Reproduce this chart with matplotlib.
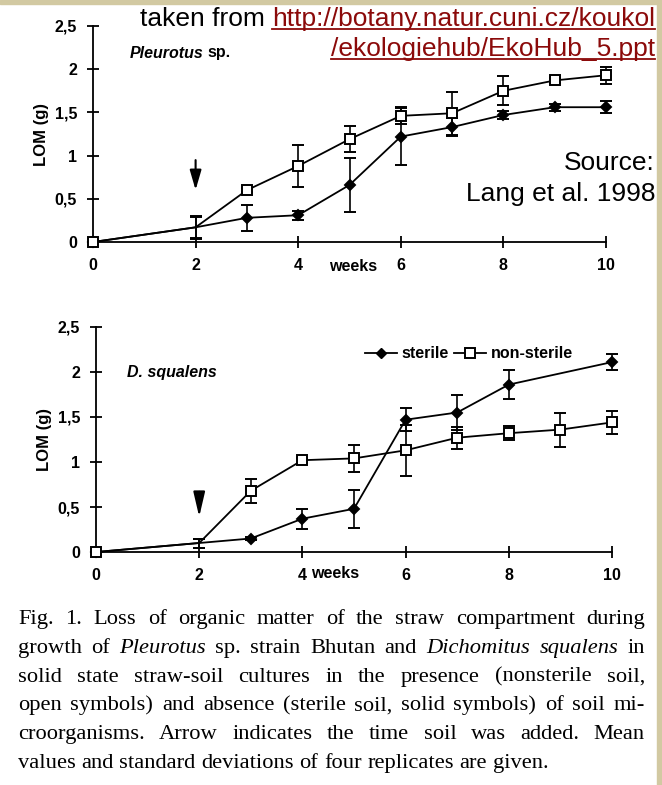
import matplotlib
matplotlib.use("Agg")
import matplotlib.pyplot as plt
from matplotlib.lines import Line2D

W, H = 662, 785

# ---------------- data ----------------
weeks_ticks = [0, 2, 4, 6, 8, 10]
y_ticks = [0, 0.5, 1, 1.5, 2, 2.5]
y_tick_labels = ["0", "0,5", "1", "1,5", "2", "2,5"]

# Pleurotus sp.
pl_ster_x = [0, 2, 3, 4, 5, 6, 7, 8, 9, 10]
pl_ster_y = [0, 0.17, 0.28, 0.31, 0.66, 1.22, 1.33, 1.47, 1.56, 1.56]
pl_ster_e = [0, 0.13, 0.15, 0.05, 0.31, 0.33, 0.10, 0.05, 0.04, 0.07]
pl_non_x = [0, 2, 3, 4, 5, 6, 7, 8, 9, 10]
pl_non_y = [0, 0.17, 0.60, 0.88, 1.19, 1.46, 1.49, 1.75, 1.87, 1.93]
pl_non_e = [0, 0.12, 0.02, 0.24, 0.15, 0.10, 0.25, 0.17, 0.03, 0.10]

# D. squalens
ds_ster_x = [0, 2, 3, 4, 5, 6, 7, 8, 10]
ds_ster_y = [0, 0.10, 0.15, 0.37, 0.48, 1.47, 1.55, 1.86, 2.11]
ds_ster_e = [0, 0.05, 0.02, 0.11, 0.21, 0.13, 0.19, 0.16, 0.09]
ds_non_x = [0, 2, 3, 4, 5, 6, 7, 8, 9, 10]
ds_non_y = [0, 0.10, 0.68, 1.02, 1.04, 1.13, 1.27, 1.32, 1.36, 1.44]
ds_non_e = [0, 0.05, 0.13, 0.03, 0.15, 0.28, 0.12, 0.08, 0.19, 0.13]

caption_lines = [
    [("Fig. 1. Loss of organic matter of the straw compartment during", False)],
    [("growth of", False), ("Pleurotus", True), ("sp. strain Bhutan and", False),
     ("Dichomitus squalens", True), ("in", False)],
    [("solid state straw-soil cultures in the presence (nonsterile soil,", False)],
    [("open symbols) and absence (sterile soil, solid symbols) of soil mi-", False)],
    [("croorganisms. Arrow indicates the time soil was added. Mean", False)],
    [("values and standard deviations of four replicates are given.", False)],
]

fig = plt.figure(figsize=(W / 100, H / 100), dpi=100)
fig.patch.set_facecolor("white")


def fx(x):
    return x / W


def fy(y):
    return 1 - y / H


# border strips
tan = "#d2c9a2"
fig.add_artist(plt.Rectangle((0, fy(4)), 1, 4 / H, transform=fig.transFigure,
                             color=tan, zorder=0))
fig.add_artist(plt.Rectangle((fx(657), 0), 5 / W, 1, transform=fig.transFigure,
                             color=tan, zorder=0))

SANS = "Liberation Sans"
SERIF = "Liberation Serif"
LS = 11.5


def make_axes(x0, x10, y0, y25):
    ax = fig.add_axes([fx(x0), fy(y0), (x10 - x0) / W, (y0 - y25) / H])
    ax.set_xlim(0, 10)
    ax.set_ylim(0, 2.5)
    ax.patch.set_alpha(0)
    for s in ["top", "right"]:
        ax.spines[s].set_visible(False)
    ax.spines["left"].set_linewidth(1.3)
    ax.spines["bottom"].set_linewidth(1.3)
    ax.spines["left"].set_bounds(0, 2.5)
    ax.spines["bottom"].set_bounds(0, 10)
    ax.set_xticks(weeks_ticks)
    ax.set_yticks(y_ticks)
    ax.set_yticklabels(y_tick_labels)
    ax.tick_params(direction="inout", length=9, width=1.3, labelsize=LS,
                   pad=7)
    for lab in ax.get_xticklabels() + ax.get_yticklabels():
        lab.set_fontweight("bold")
        lab.set_fontfamily(SANS)
    ax.set_ylabel("LOM (g)", fontweight="bold", fontfamily=SANS, fontsize=12,
                  labelpad=4)
    return ax


def plot_series(ax, x, y, e, marker, face, ms):
    ax.errorbar(x, y, yerr=e, color="black", lw=1.3, elinewidth=1.2,
                capsize=4, capthick=1.2, marker=marker, mfc=face, mec="black",
                mew=1.4, ms=ms, markevery=[i for i in range(len(x)) if x[i] != 2],
                clip_on=False, zorder=3)


fig.canvas.draw()
renderer = fig.canvas.get_renderer()

# ---------- top chart ----------
ax1 = make_axes(93, 606, 242, 26)
plot_series(ax1, pl_ster_x, pl_ster_y, pl_ster_e, "D", "black", 5.5)
plot_series(ax1, pl_non_x, pl_non_y, pl_non_e, "s", "white", 7)
ax1.annotate("", xy=(2, 0.57), xytext=(2, 0.98),
             arrowprops=dict(arrowstyle="-|>,head_length=1.2,head_width=0.35",
                             color="black", lw=1.5))
tp = fig.text(fx(130), fy(53), "Pleurotus", fontstyle="italic", fontweight="bold",
              fontsize=LS, fontfamily=SANS, va="center")
wp = tp.get_window_extent(renderer=renderer).width
fig.text(fx(130 + wp + 4), fy(53), "sp.", fontweight="bold", fontsize=LS,
         fontfamily=SANS, va="center")
fig.text(fx(329), fy(267), "weeks", fontweight="bold", fontsize=LS,
         fontfamily=SANS, va="center")

# ---------- bottom chart ----------
ax2 = make_axes(96, 612, 552, 327)
plot_series(ax2, ds_ster_x, ds_ster_y, ds_ster_e, "D", "black", 5.5)
plot_series(ax2, ds_non_x, ds_non_y, ds_non_e, "s", "white", 7)
ax2.annotate("", xy=(2, 0.36), xytext=(2, 0.7),
             arrowprops=dict(arrowstyle="-|>,head_length=1.5,head_width=0.35",
                             color="black", lw=1.5))
fig.text(fx(127), fy(372), "D. squalens", fontstyle="italic", fontweight="bold",
         fontsize=LS, fontfamily=SANS, va="center")
fig.text(fx(311), fy(574), "weeks", fontweight="bold", fontsize=LS,
         fontfamily=SANS, va="center")

h1 = Line2D([], [], color="black", lw=1.3, marker="D", mfc="black", ms=5.5)
h2 = Line2D([], [], color="black", lw=1.3, marker="s", mfc="white", mew=1.4, ms=7)
ax2.legend([h1, h2], ["sterile", "non-sterile"], loc="center",
           bbox_to_anchor=(fx(469), fy(354)), bbox_transform=fig.transFigure,
           ncol=2, frameon=False, handlelength=2.0, handletextpad=0.3,
           columnspacing=0.3, prop=dict(family=SANS, weight="bold", size=LS))

# ---------- overlay texts ----------
red = "#8b0a0a"


def right_text(x_right, y, parts, size):
    x = x_right
    for txt, col, ul in reversed(parts):
        t = fig.text(fx(x), fy(y), txt, color=col, fontsize=size, fontfamily=SANS,
                     ha="right", va="baseline")
        wpx = t.get_window_extent(renderer=renderer).width
        if ul:
            fig.add_artist(Line2D([fx(x - wpx), fx(x)], [fy(y + 3), fy(y + 3)],
                                  transform=fig.transFigure, color=col, lw=1.3))
        x -= wpx


TS = 19
right_text(655, 26, [("taken from ", "black", False),
                     ("http://botany.natur.cuni.cz/koukol", red, True)], TS)
right_text(655, 56, [("/ekologiehub/EkoHub_5.ppt", red, True)], TS)
right_text(655, 170, [("Source:", "black", False)], TS)
right_text(655, 201, [("Lang et al. 1998", "black", False)], TS)

# ---------- caption (justified) ----------
CS = 16.2
left, right = 18, 645
base0, step = 624, 28.8


def measure(txt, it=False):
    t = fig.text(0, 0, txt, fontsize=CS, fontfamily=SERIF,
                 fontstyle="italic" if it else "normal")
    w = t.get_window_extent(renderer=renderer).width
    t.remove()
    return w


space_w = measure("a b") - measure("ab")
for i, segs in enumerate(caption_lines):
    words = []
    for txt, it in segs:
        for w in txt.split():
            words.append((w, it))
    yb = base0 + i * step
    widths = []
    arts = []
    for w, it in words:
        t = fig.text(0, fy(yb), w, fontsize=CS, fontfamily=SERIF,
                     fontstyle="italic" if it else "normal", va="baseline")
        widths.append(t.get_window_extent(renderer=renderer).width)
        arts.append(t)
    if i < len(caption_lines) - 1:
        gap = (right - left - sum(widths)) / (len(words) - 1)
    else:
        gap = space_w
    x = left
    for t, wpx in zip(arts, widths):
        t.set_x(fx(x))
        x += wpx + gap

fig.savefig("out.png", dpi=100, facecolor="white")
